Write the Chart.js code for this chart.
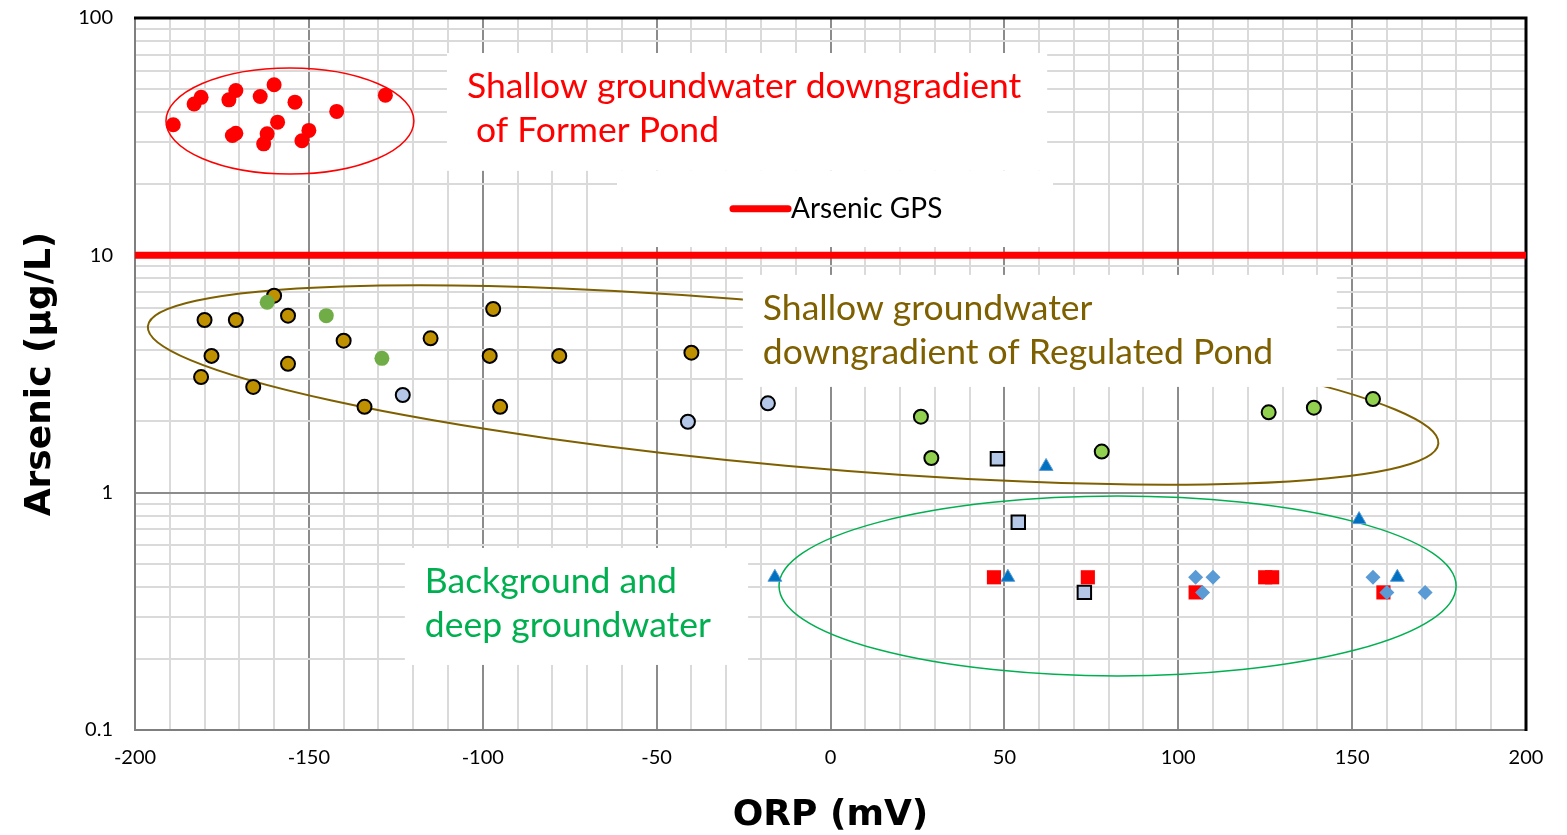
<!DOCTYPE html>
<html>
<head>
<meta charset="utf-8">
<script src="https://cdn.jsdelivr.net/npm/chart.js@4.4.0/dist/chart.umd.min.js"></script>
<style>
  body { margin: 0; background: #fff; }
  #wrap { width: 1567px; height: 835px; }
</style>
</head>
<body>
<div id="wrap"><canvas id="c"></canvas></div>
<script>
// ORP (mV) / arsenic (ug/L) pairs, one pair of arrays per well group
const formerPondOrp = [-189, -183, -181, -173, -171, -164, -160, -154, -142, -128, -172, -171, -162, -163, -159, -150, -152]
const formerPondAs  = [35.5, 43.4, 46.3, 45.2, 49.5, 46.7, 52.3, 44.2, 40.4, 47.3, 32.0, 32.7, 32.5, 29.5, 36.4, 33.6, 30.4]

const regPondOrp = [-160, -180, -171, -156, -140, -115, -97, -178, -156, -98, -78, -181, -166, -134, -95, -40]
const regPondAs  = [6.76, 5.34, 5.34, 5.57, 4.37, 4.47, 5.94, 3.77, 3.49, 3.77, 3.77, 3.07, 2.79, 2.30, 2.30, 3.89]

const greenOrp = [-162, -145, -129]
const greenAs  = [6.34, 5.57, 3.68]

const paleCircleOrp = [-123, -41, -18]
const paleCircleAs  = [2.58, 1.99, 2.38]

const limeOrp = [26, 29, 78, 126, 139, 156]
const limeAs  = [2.09, 1.40, 1.49, 2.18, 2.28, 2.48]

const paleSquareOrp = [48, 54, 73]
const paleSquareAs  = [1.39, 0.75, 0.38]

const redSquareOrp = [47, 74, 125, 127, 105, 159]
const redSquareAs  = [0.44, 0.44, 0.44, 0.44, 0.38, 0.38]

const triangleOrp = [-16, 51, 62, 152, 163]
const triangleAs  = [0.44, 0.44, 1.29, 0.77, 0.44]

const diamondOrp = [105, 110, 107, 156, 160, 171]
const diamondAs  = [0.44, 0.44, 0.38, 0.44, 0.38, 0.38]

const gpsOrp = [-200, 200]
const gpsAs  = [10, 10]

const xMajorTicks = [-200, -150, -100, -50, 0, 50, 100, 150, 200]
const xMinorStep = 10
const yMajorTicks = [0.1, 1, 10, 100]
const yMinorMultipliers = [1, 2, 3, 4, 5, 6, 7, 8, 9]

// annotation groups (box and ellipse extents in ORP / arsenic units)
const notes = [
  { lines: ['Shallow groundwater downgradient', ' of Former Pond'], color: '#FF0000', box: [-110.3, 62.3, 71.2, 22.7] },
  { lines: ['Shallow groundwater', 'downgradient of Regulated Pond'], color: '#7F6000', box: [-25.2, 145.6, 8.27, 2.79] },
  { lines: ['Background and', 'deep groundwater'], color: '#00B050', box: [-122.4, -23.7, 0.585, 0.188] }
]
const legendBox = [-61.4, 64.0, 22.7, 10.84]
const redEllipse = [-191.1, -119.8, 61.6, 22.0]
const greenEllipse = [-14.8, 179.9, 0.968, 0.169]
const brownEllipseTips = [[-196.3, 5.02], [174.8, 1.61]]
const brownEllipseRatio = 0.125

function pts(xs, ys) {
  return xs.map((x, i) => ({ x: x, y: ys[i] }))
}

function isDecade(v) {
  const l = Math.log10(v)
  return Math.abs(l - Math.round(l)) < 1e-9
}

const overlay = {
  id: 'overlay',
  beforeDatasetsDraw(chart) {
    const ctx = chart.ctx
    const xs = chart.scales.x, ys = chart.scales.y
    const px = v => xs.getPixelForValue(v)
    const py = v => ys.getPixelForValue(v)

    ctx.save()
    // ellipses round the groups
    const boxEllipse = (e, color, w) => {
      const l = px(e[0]), r = px(e[1]), t = py(e[2]), b = py(e[3])
      ctx.beginPath()
      ctx.ellipse((l + r) / 2, (t + b) / 2, (r - l) / 2, (b - t) / 2, 0, 0, Math.PI * 2)
      ctx.strokeStyle = color
      ctx.lineWidth = w
      ctx.stroke()
    }
    boxEllipse(redEllipse, '#FF0000', 1.5)
    boxEllipse(greenEllipse, '#00B050', 1.5)

    const x1 = px(brownEllipseTips[0][0]), y1 = py(brownEllipseTips[0][1])
    const x2 = px(brownEllipseTips[1][0]), y2 = py(brownEllipseTips[1][1])
    const a = Math.hypot(x2 - x1, y2 - y1) / 2
    ctx.beginPath()
    ctx.ellipse((x1 + x2) / 2, (y1 + y2) / 2, a, a * brownEllipseRatio, Math.atan2(y2 - y1, x2 - x1), 0, Math.PI * 2)
    ctx.strokeStyle = '#7F6000'
    ctx.lineWidth = 2
    ctx.stroke()

    // text boxes
    ctx.fillStyle = '#FFFFFF'
    notes.forEach(n => {
      const l = px(n.box[0]), r = px(n.box[1]), t = py(n.box[2]), b = py(n.box[3])
      ctx.fillRect(l, t, r - l, b - t)
    })
    const ll = px(legendBox[0]), lr = px(legendBox[1]), lt = py(legendBox[2]), lb = py(legendBox[3])
    ctx.fillRect(ll, lt, lr - ll, lb - lt)

    ctx.textBaseline = 'middle'
    ctx.textAlign = 'left'
    ctx.font = '35.5px Lato'
    notes.forEach(n => {
      const l = px(n.box[0]), t = py(n.box[2])
      ctx.fillStyle = n.color
      n.lines.forEach((s, i) => ctx.fillText(s, l + 20, t + 34 + i * 44))
    })

    // legend entry for the GPS line
    const gps = chart.data.datasets.find(d => d.label === 'Arsenic GPS')
    ctx.strokeStyle = gps.borderColor
    ctx.lineWidth = 7
    ctx.lineCap = 'round'
    ctx.beginPath()
    ctx.moveTo(ll + 116, lt + 38)
    ctx.lineTo(lr - 265, lt + 38)
    ctx.stroke()
    ctx.fillStyle = '#000000'
    ctx.font = '28px Lato'
    ctx.fillText(gps.label, lr - 262, lt + 38)

    // plot frame
    const ca = chart.chartArea
    ctx.lineCap = 'butt'
    ctx.strokeStyle = '#7F7F7F'
    ctx.lineWidth = 2
    ctx.beginPath()
    ctx.moveTo(ca.left, ca.top)
    ctx.lineTo(ca.left, ca.bottom)
    ctx.lineTo(ca.right, ca.bottom)
    ctx.stroke()
    ctx.strokeStyle = '#000000'
    ctx.lineWidth = 3
    ctx.beginPath()
    ctx.moveTo(ca.left - 1, ca.top)
    ctx.lineTo(ca.right, ca.top)
    ctx.lineTo(ca.right, ca.bottom + 1)
    ctx.stroke()
    ctx.restore()
  }
}

const black = '#000000'

new Chart(document.getElementById('c'), {
  type: 'scatter',
  data: {
    datasets: [
      { label: 'Diamonds', data: pts(diamondOrp, diamondAs), pointStyle: 'rectRot', pointRadius: 7.5, backgroundColor: '#5B9BD5', borderWidth: 0 },
      { label: 'Triangles', data: pts(triangleOrp, triangleAs), pointStyle: 'triangle', pointRadius: 8, backgroundColor: '#0070C0', borderColor: '#5B9BD5', borderWidth: 1 },
      { label: 'Red squares', data: pts(redSquareOrp, redSquareAs), pointStyle: 'rect', pointRadius: 10, backgroundColor: '#FF0000', borderWidth: 0 },
      { label: 'Pale squares', data: pts(paleSquareOrp, paleSquareAs), pointStyle: 'rect', pointRadius: 9.5, backgroundColor: '#B4C7E7', borderColor: black, borderWidth: 2 },
      { label: 'Lime circles', data: pts(limeOrp, limeAs), pointStyle: 'circle', pointRadius: 7, backgroundColor: '#92D050', borderColor: black, borderWidth: 2 },
      { label: 'Pale circles', data: pts(paleCircleOrp, paleCircleAs), pointStyle: 'circle', pointRadius: 7, backgroundColor: '#B4C7E7', borderColor: black, borderWidth: 2 },
      { label: 'Green circles', data: pts(greenOrp, greenAs), pointStyle: 'circle', pointRadius: 7.5, backgroundColor: '#70AD47', borderWidth: 0 },
      { label: 'Regulated Pond', data: pts(regPondOrp, regPondAs), pointStyle: 'circle', pointRadius: 7, backgroundColor: '#BF9000', borderColor: black, borderWidth: 2 },
      { label: 'Former Pond', data: pts(formerPondOrp, formerPondAs), pointStyle: 'circle', pointRadius: 7.5, backgroundColor: '#FF0000', borderWidth: 0 },
      { label: 'Arsenic GPS', data: pts(gpsOrp, gpsAs), showLine: true, pointRadius: 0, borderColor: '#FF0000', borderWidth: 7 }
    ]
  },
  options: {
    responsive: true,
    maintainAspectRatio: false,
    animation: false,
    events: [],
    layout: { padding: { top: 18, right: 41, left: 0, bottom: 0 } },
    plugins: { legend: { display: false }, tooltip: { enabled: false } },
    scales: {
      x: {
        type: 'linear',
        min: -200,
        max: 200,
        afterBuildTicks: s => {
          const t = []
          for (let v = xMajorTicks[0]; v <= xMajorTicks[xMajorTicks.length - 1]; v += xMinorStep) t.push({ value: v })
          s.ticks = t
        },
        afterFit: s => { s.height = 105 },
        ticks: {
          autoSkip: false,
          maxRotation: 0,
          padding: 16,
          color: black,
          font: { family: 'Lato', size: 20 },
          callback: v => xMajorTicks.includes(v) ? String(v) : ''
        },
        grid: {
          drawTicks: false,
          lineWidth: 2,
          color: c => c.tick && xMajorTicks.includes(c.tick.value) ? '#8C8C8C' : '#DADADA'
        },
        border: { display: false },
        title: {
          display: true,
          text: 'ORP (mV)',
          color: black,
          padding: 0,
          font: { family: 'DejaVu Sans', size: 36, weight: 'bold', lineHeight: 1.1 }
        }
      },
      y: {
        type: 'logarithmic',
        min: 0.1,
        max: 100,
        afterBuildTicks: s => {
          const t = []
          yMajorTicks.forEach((d, i) => {
            if (i < yMajorTicks.length - 1) {
              yMinorMultipliers.forEach(m => t.push({ value: +(d * m).toPrecision(3) }))
            } else {
              t.push({ value: d })
            }
          })
          s.ticks = t
        },
        afterFit: s => {
          s.width = 135
          s.paddingTop = 0
          s.paddingBottom = 0
        },
        ticks: {
          autoSkip: false,
          padding: 22,
          color: black,
          font: { family: 'Lato', size: 20 },
          callback: v => yMajorTicks.includes(v) ? String(v) : ''
        },
        grid: {
          drawTicks: false,
          lineWidth: 2,
          color: c => c.tick && isDecade(c.tick.value) ? '#8C8C8C' : '#DADADA'
        },
        border: { display: false },
        title: {
          display: true,
          text: 'Arsenic (µg/L)',
          color: black,
          padding: { top: 19 },
          font: { family: 'DejaVu Sans', size: 36, weight: 'bold' }
        }
      }
    }
  },
  plugins: [overlay]
})
</script>
</body>
</html>
